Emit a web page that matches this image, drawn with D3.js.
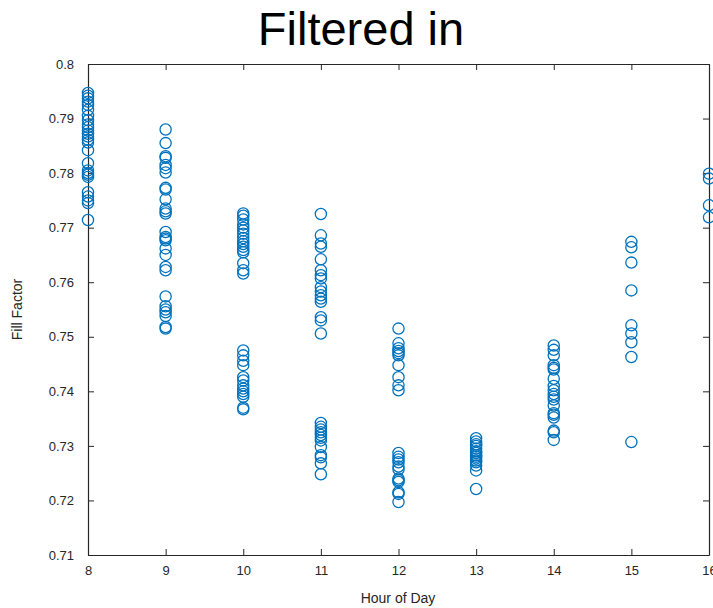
<!DOCTYPE html>
<html>
<head>
<meta charset="utf-8">
<script src="https://cdn.jsdelivr.net/npm/d3@7"></script>
<style>
  html, body { margin: 0; padding: 0; background: #fff; }
  svg { display: block; font-family: "Liberation Sans", Arial, sans-serif; }
</style>
</head>
<body>
<svg id="chart" width="713" height="608"></svg>
<script>
const title = "Filtered in";
const xLabel = "Hour of Day";
const yLabel = "Fill Factor";
const xTicks = [8, 9, 10, 11, 12, 13, 14, 15, 16];
const yTicks = [0.71, 0.72, 0.73, 0.74, 0.75, 0.76, 0.77, 0.78, 0.79, 0.8];

const hour8  = [0.7947, 0.7942, 0.7937, 0.7931, 0.7925, 0.7916, 0.7905, 0.7897, 0.7889, 0.7884, 0.7878, 0.7872, 0.7867, 0.7861, 0.7856, 0.7842, 0.7818, 0.7805, 0.7800, 0.7797, 0.7793, 0.7765, 0.7757, 0.7750, 0.7745, 0.7714];
const hour9  = [0.7880, 0.7855, 0.7831, 0.7828, 0.7815, 0.7809, 0.7801, 0.7773, 0.7770, 0.7752, 0.7735, 0.7730, 0.7726, 0.7692, 0.7683, 0.7680, 0.7677, 0.7662, 0.7650, 0.7628, 0.7622, 0.7574, 0.7556, 0.7550, 0.7545, 0.7538, 0.7518, 0.7515];
const hour10 = [0.7726, 0.7722, 0.7715, 0.7706, 0.7700, 0.7695, 0.7689, 0.7681, 0.7675, 0.7670, 0.7665, 0.7659, 0.7655, 0.7635, 0.7622, 0.7616,
                0.7475, 0.7466, 0.7456, 0.7448, 0.7426, 0.7420, 0.7411, 0.7405, 0.7400, 0.7395, 0.7390, 0.7370, 0.7367];
const hour11 = [0.7725, 0.7686, 0.7671, 0.7665, 0.7642, 0.7622, 0.7613, 0.7607, 0.7591, 0.7583, 0.7576, 0.7570, 0.7564, 0.7536, 0.7530, 0.7506,
                0.7342, 0.7335, 0.7330, 0.7325, 0.7320, 0.7315, 0.7310, 0.7298, 0.7283, 0.7279, 0.7268, 0.7248];
const hour12 = [0.7515, 0.7488, 0.7479, 0.7474, 0.7470, 0.7466, 0.7448, 0.7426, 0.7411, 0.7402,
                0.7287, 0.7280, 0.7275, 0.7270, 0.7262, 0.7257, 0.7240, 0.7237, 0.7234, 0.7215, 0.7212, 0.7197];
const hour13 = [0.7314, 0.7308, 0.7303, 0.7300, 0.7295, 0.7290, 0.7287, 0.7283, 0.7280, 0.7277, 0.7273, 0.7270, 0.7264, 0.7255, 0.7221];
const hour14 = [0.7484, 0.7476, 0.7466, 0.7448, 0.7443, 0.7440, 0.7423, 0.7410, 0.7402, 0.7395, 0.7390, 0.7385, 0.7374, 0.7360, 0.7357, 0.7352, 0.7328, 0.7325, 0.7311];
const hour15 = [0.7674, 0.7664, 0.7636, 0.7585, 0.7521, 0.7506, 0.7490, 0.7463, 0.7307];
const hour16 = [0.7799, 0.7790, 0.7741, 0.7719];

const groups = [
  {hour: 8, values: hour8}, {hour: 9, values: hour9}, {hour: 10, values: hour10},
  {hour: 11, values: hour11}, {hour: 12, values: hour12}, {hour: 13, values: hour13},
  {hour: 14, values: hour14}, {hour: 15, values: hour15}, {hour: 16, values: hour16}
];
const points = groups.flatMap(g => g.values.map(v => ({x: g.hour, y: v})));

const svg = d3.select("#chart");
const pLeft = 88, pRight = 709, pTop = 64, pBottom = 555;
const x = d3.scaleLinear().domain([8, 16]).range([pLeft, pRight]);
const y = d3.scaleLinear().domain([0.71, 0.8]).range([pBottom, pTop]);
const axisColor = "#262626";
const tickLen = 6;

const gb = svg.append("g").attr("transform", `translate(0,${pBottom})`)
  .call(d3.axisBottom(x).tickValues(xTicks).tickFormat(d3.format("d")).tickSizeInner(-tickLen).tickSizeOuter(0).tickPadding(11));
const gt = svg.append("g").attr("transform", `translate(0,${pTop})`)
  .call(d3.axisTop(x).tickValues(xTicks).tickFormat("").tickSizeInner(-tickLen).tickSizeOuter(0));
const gl = svg.append("g").attr("transform", `translate(${pLeft},0)`)
  .call(d3.axisLeft(y).tickValues(yTicks).tickFormat(d => String(+d.toFixed(2))).tickSizeInner(-tickLen).tickSizeOuter(0).tickPadding(14));
const gr = svg.append("g").attr("transform", `translate(${pRight},0)`)
  .call(d3.axisRight(y).tickValues(yTicks).tickFormat("").tickSizeInner(-tickLen).tickSizeOuter(0));

[gb, gt, gl, gr].forEach(g => {
  g.select(".domain").attr("stroke", axisColor).attr("stroke-width", 1.2);
  g.selectAll(".tick line").attr("stroke", axisColor).attr("stroke-width", 1);
  g.selectAll(".tick text").attr("fill", axisColor).style("font-size", "13px")
    .style("font-family", "'Liberation Sans', Arial, sans-serif");
});

svg.append("g").selectAll("circle").data(points).join("circle")
  .attr("cx", d => x(d.x)).attr("cy", d => y(d.y)).attr("r", 5.6)
  .attr("fill", "none").attr("stroke", "#0072BD").attr("stroke-width", 1.3);

svg.append("text").attr("x", 361).attr("y", 45).attr("text-anchor", "middle")
  .style("font-size", "47px").attr("fill", "#000").text(title);

svg.append("text").attr("x", 398).attr("y", 603).attr("text-anchor", "middle")
  .style("font-size", "14px").attr("fill", axisColor).text(xLabel);

svg.append("text").attr("transform", `translate(22,${(pTop + pBottom) / 2}) rotate(-90)`)
  .attr("text-anchor", "middle").style("font-size", "14px").attr("fill", axisColor).text(yLabel);
</script>
</body>
</html>
